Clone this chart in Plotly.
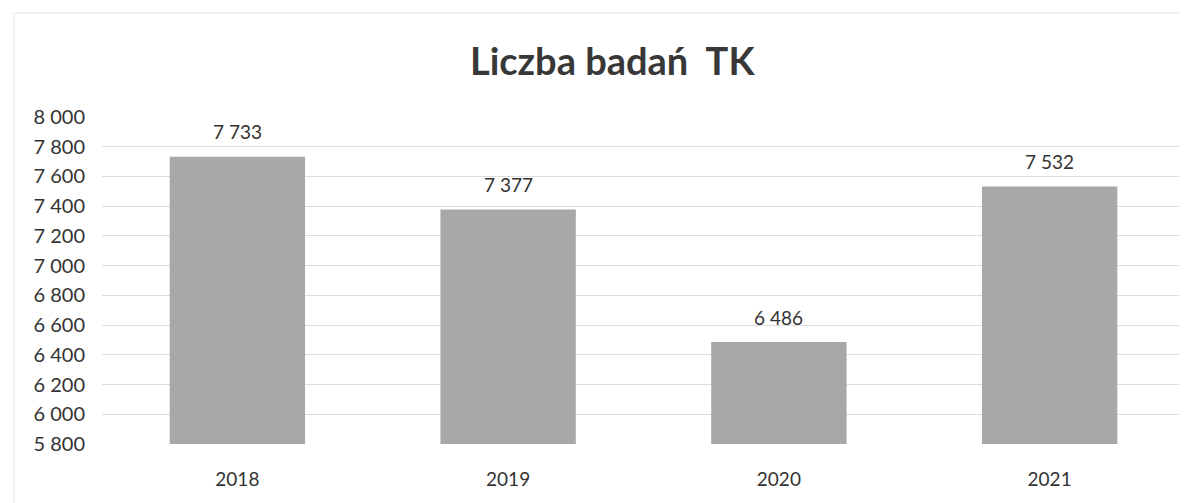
import plotly.graph_objects as go

years = ["2018", "2019", "2020", "2021"]
counts = [7733, 7377, 6486, 7532]
tick_vals = list(range(5800, 8001, 200))

FONT = "Lato"

fig = go.Figure(go.Bar(
    x=years, y=counts,
    marker=dict(color="#a8a8a8", line=dict(width=0)),
))

# category axis: annotation x given as category index
for i, v in enumerate(counts):
    fig.add_annotation(x=i, y=v, text=f"{v:,}".replace(",", " "),
                       showarrow=False, yanchor="middle", yshift=25,
                       font=dict(size=19, color="#333333", family=FONT))

fig.update_layout(
    width=1187, height=503,
    paper_bgcolor="white", plot_bgcolor="white",
    margin=dict(l=94, r=10, t=109, b=67),
    separators=", ",
    bargap=0.5,
    showlegend=False,
    title=dict(text="<b>Liczba badań  TK</b>", x=0.509, xanchor="center",
               y=0.893, yanchor="middle",
               font=dict(size=38, color="#383838", family=FONT)),
    font=dict(family=FONT, color="#333333"),
)
fig.update_yaxes(range=[5800, 8000], tickvals=tick_vals, tickformat=",d",
                 showgrid=True, gridcolor="#dcdcdc", gridwidth=1,
                 zeroline=False, showline=False,
                 tickfont=dict(size=20, color="#333333"),
                 ticks="outside", ticklen=12, tickcolor="white")
fig.update_xaxes(type="category", categoryorder="array", categoryarray=years,
                 range=[-0.5, len(years) - 0.5],
                 showgrid=False, showline=False,
                 tickfont=dict(size=19, color="#333333"),
                 ticks="outside", ticklen=18, tickcolor="white")
# faint chart-area frame (left and top edges)
fig.add_shape(type="line", xref="paper", yref="paper", x0=-0.0813, x1=-0.0813,
              y0=-0.3, y1=1.318, line=dict(color="#e4e4e4", width=1))
fig.add_shape(type="line", xref="paper", yref="paper", x0=-0.0813, x1=1.02,
              y0=1.318, y1=1.318, line=dict(color="#e4e4e4", width=1))

fig.write_html("out.html")
